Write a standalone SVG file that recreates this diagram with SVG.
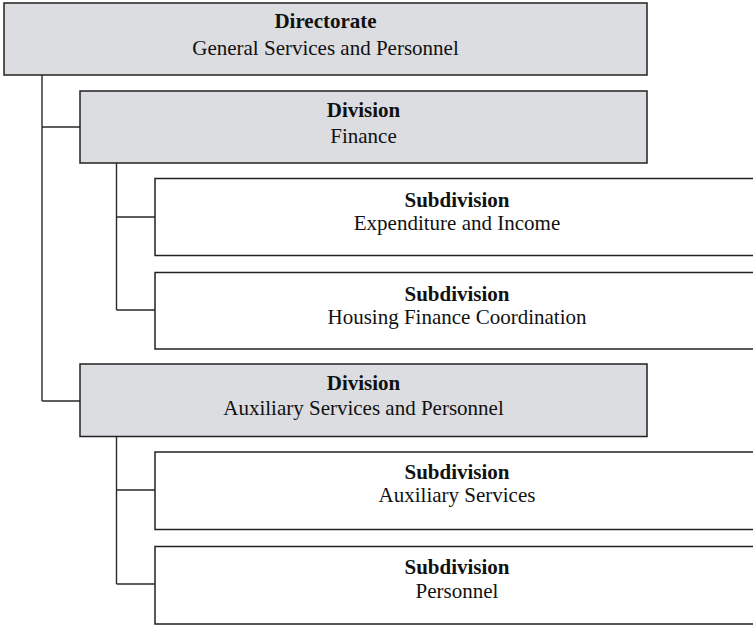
<svg xmlns="http://www.w3.org/2000/svg" width="753" height="625" viewBox="0 0 753 625">
<style>
.box{stroke:#222;stroke-width:1.5}
.gray{fill:#dcdde0}
.white{fill:#fff}
.t{font-family:"Liberation Serif","Times New Roman",serif;font-size:21px;fill:#111;text-anchor:middle}
.b{font-weight:bold}
.c{fill:none;stroke:#2a2a2a;stroke-width:1.4}
</style>
<rect width="753" height="625" fill="#fff"/>
<g id="connectors">
<path class="c" d="M42,75V401M42,127H80M42,401H80"/>
<path class="c" d="M116.5,163V310M116.5,217H155M116.5,310H155"/>
<path class="c" d="M116.5,436.5V584M116.5,490H155M116.5,584H155"/>
</g>
<g id="directorate">
<rect class="box gray" x="4" y="3" width="643" height="72"/>
<text class="t b" x="325.5" y="27.5">Directorate</text>
<text class="t" x="325.5" y="54.5">General Services and Personnel</text>
</g>
<g id="div-finance">
<rect class="box gray" x="80" y="91" width="567" height="72"/>
<text class="t b" x="363.5" y="116.5">Division</text>
<text class="t" x="363.5" y="143">Finance</text>
</g>
<g id="sub-expenditure">
<rect class="box white" x="155" y="178.5" width="604" height="77"/>
<text class="t b" x="457" y="206.5">Subdivision</text>
<text class="t" x="457" y="230">Expenditure and Income</text>
</g>
<g id="sub-housing">
<rect class="box white" x="155" y="272.5" width="604" height="76.5"/>
<text class="t b" x="457" y="300.5">Subdivision</text>
<text class="t" x="457" y="324">Housing Finance Coordination</text>
</g>
<g id="div-auxiliary">
<rect class="box gray" x="80" y="364" width="567" height="72.5"/>
<text class="t b" x="363.5" y="390">Division</text>
<text class="t" x="363.5" y="415">Auxiliary Services and Personnel</text>
</g>
<g id="sub-auxiliary">
<rect class="box white" x="155" y="452" width="604" height="77.5"/>
<text class="t b" x="457" y="478.5">Subdivision</text>
<text class="t" x="457" y="502">Auxiliary Services</text>
</g>
<g id="sub-personnel">
<rect class="box white" x="155" y="546.5" width="604" height="77.5"/>
<text class="t b" x="457" y="574">Subdivision</text>
<text class="t" x="457" y="598">Personnel</text>
</g>
</svg>
